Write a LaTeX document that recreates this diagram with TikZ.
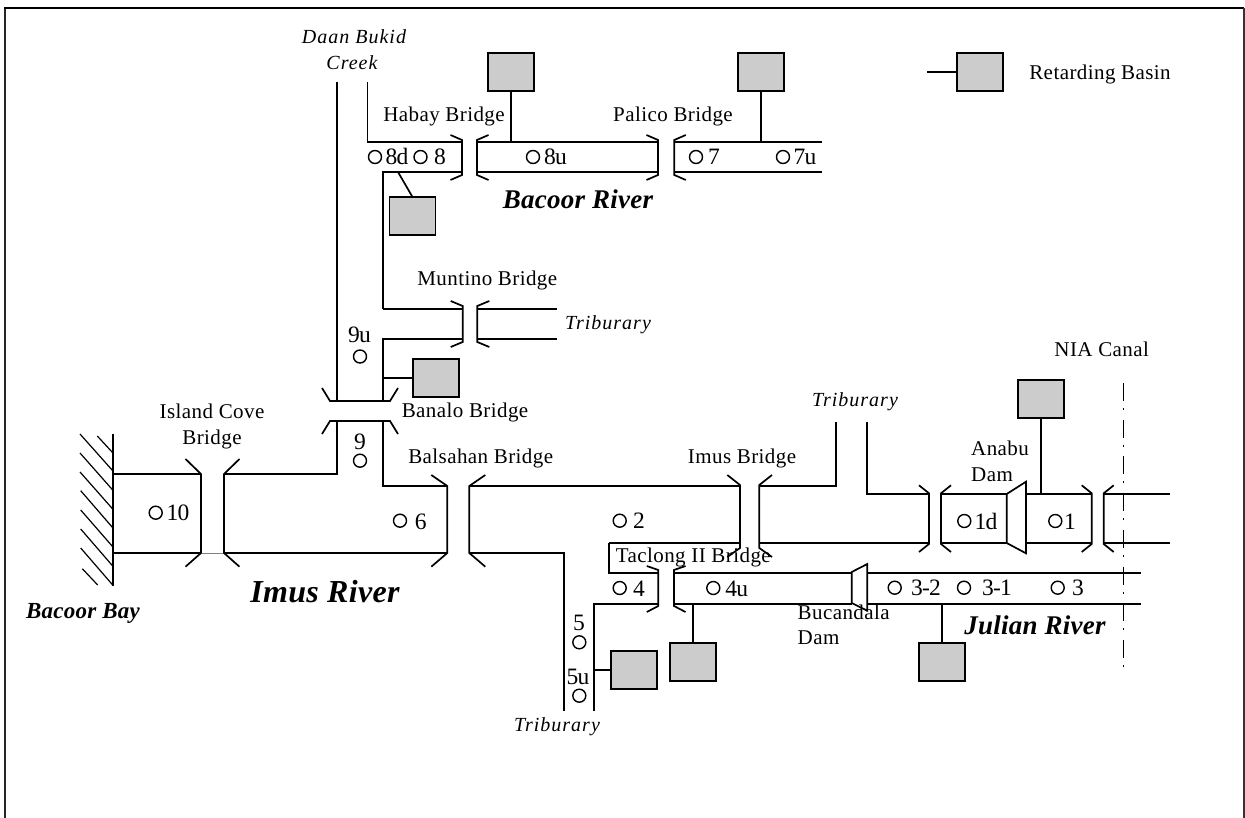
\documentclass[tikz,border=0pt]{standalone}
\usepackage{fontspec}
\setmainfont{Liberation Serif}
\newfontfamily\spc[LetterSpace=2]{Liberation Serif}
\newfontfamily\spn[LetterSpace=-3]{Liberation Serif}
\newfontfamily\spi[LetterSpace=5]{Liberation Serif Italic}
\newfontfamily\spb[LetterSpace=1]{Liberation Serif Bold Italic}
\newcommand{\vbridge}[7]{%
  \draw[river] ({#1-#5},{#3-#6}) -- (#1,#3) -- (#1,#4) -- ({#1-#5},{#4+#7});
  \draw[river] ({#2+#5},{#3-#6}) -- (#2,#3) -- (#2,#4) -- ({#2+#5},{#4+#7});
}
\tikzset{
  x=1pt,y=-1pt,
  river/.style={line width=1.7pt,line join=miter,black},
  hatchline/.style={line width=1.2pt,black},
  basin/.style={draw=black,fill=black!20,line width=1.8pt,minimum width=46pt,minimum height=38pt,inner sep=0pt,outer sep=0pt},
  gauge/.style={circle,draw=black,line width=1.4pt,minimum size=13pt,inner sep=0pt},
  dam/.style={draw=black,fill=white,line width=1.7pt,line join=miter},
  num/.style={inner sep=0pt,text height=16pt,text depth=0pt,font=\fontsize{23.5}{26}\spn},
  lbl/.style={inner sep=0pt,text height=13.5pt,text depth=0pt,font=\fontsize{21}{24}\spc},
  lbli/.style={inner sep=0pt,text height=12pt,text depth=0pt,font=\fontsize{20}{24}\spi},
  lblb/.style={inner sep=0pt,text height=17.5pt,text depth=0pt,font=\fontsize{27}{30}\spb},
}
\begin{document}
\begin{tikzpicture}
\useasboundingbox (0,0) rectangle (1245,818);
% frame
\draw[line width=1.8pt,black!85] (4.7,818) -- (4.7,7.7);
\draw[line width=2pt,black] (4,7.7) -- (1244,7.7);
\draw[line width=1.2pt,black!80] (1244,7.7) -- (1244,818);
% bay
\draw[line width=1.6pt] (113,434) -- (113,586);
\foreach \xa/\ya/\xb/\yb in {112.7/452.7/97.3/436, 112.7/470.7/80/434, 112.7/490/80/453, 112.7/509/80/472, 112.7/527.7/80.7/490.7, 112.7/546.7/80.7/510, 112.7/566/80.7/529, 112.7/585/80.7/548, 97.7/585/82.3/568.7}
  \draw[hatchline] (\xa,\ya) -- (\xb,\yb);
% Imus river and branches
\draw[river] (113,474) -- (201,474);
\draw[river] (224,474) -- (337.3,474) -- (337.3,421);
\draw[river] (337.3,401) -- (337.3,82);
\draw[river] (113,553) -- (201,553);
\draw[line width=.5pt,black!50] (201,553) -- (224,553);
\draw[river] (224,553) -- (447.3,553);
\vbridge{201}{224}{474}{553}{15.5}{15}{13.7}
\vbridge{447.3}{469.3}{486}{553}{16}{11}{13.7}
\draw[river] (382.7,421) -- (382.7,486) -- (447.3,486);
% Banalo bridge
\draw[river] (322,388) -- (330,401) -- (390,401) -- (398,388);
\draw[river] (322,434) -- (330,421) -- (390,421) -- (398,434);
\draw[river] (382.7,401) -- (382.7,339) -- (462.7,339);
\draw[river] (382.7,309) -- (462.7,309);
\draw[river] (382.7,309) -- (382.7,172) -- (462,172);
% Bacoor river
\draw[river] (367.5,82) -- (367.5,142) -- (462,142);
\vbridge{462}{477}{140}{175}{11.5}{5}{5}
\draw[river] (477,142) -- (658,142);
\draw[river] (477,172) -- (658,172);
\vbridge{658}{674.3}{140}{175}{11.5}{5}{5}
\draw[river] (674.3,142) -- (822,142);
\draw[river] (674.3,172) -- (822,172);
% Muntino
\vbridge{462.7}{477.3}{306}{342}{12}{5}{5}
\draw[river] (477.3,309) -- (556.7,309);
\draw[river] (477.3,339) -- (556.7,339);
% Imus to east
\draw[river] (469.3,486) -- (740,486);
\vbridge{740}{759.3}{485}{548}{12.7}{10}{9}
\draw[river] (759.3,486) -- (836,486) -- (836,422);
\draw[river] (866.7,422) -- (866.7,494) -- (929,494);
\draw[river] (609.3,543) -- (740,543);
\draw[river] (759.3,543) -- (929,543);
\vbridge{929}{941}{493.3}{544}{10}{8}{8}
\draw[river] (941,494) -- (1006.7,494);
\draw[river] (941,543) -- (1006.7,543);
\draw[river] (1026,494) -- (1091.7,494);
\draw[river] (1026,543) -- (1091.7,543);
\vbridge{1091.7}{1103.7}{493.3}{544}{10}{8}{8}
\draw[river] (1103.7,494) -- (1170,494);
\draw[river] (1103.7,543) -- (1170,543);
\draw[dam] (1006.7,494) -- (1026,481.7) -- (1026,553.3) -- (1006.7,543) -- cycle;
% Taclong / Julian
\draw[river] (609.3,543) -- (609.3,573) -- (658.3,573);
\draw[river] (564,711) -- (564,553) -- (469.3,553);
\draw[river] (594,711) -- (594,604) -- (658.3,604);
\vbridge{658.3}{674}{570}{606}{11.5}{4}{6}
\draw[river] (674,573) -- (851.7,573);
\draw[river] (674,604) -- (851.7,604);
\draw[river] (867.3,573) -- (1141,573);
\draw[river] (867.3,604) -- (1141,604);
\draw[dam] (851.7,572) -- (867.3,564) -- (867.3,610.7) -- (851.7,603) -- cycle;
% NIA canal
\draw[line width=1.5pt,dash pattern=on 18pt off 7pt on 2pt off 9.7pt] (1123.7,383) -- (1123.7,668);
% basins
\node[basin] (bHabay) at (511,72) {};
\node[basin] (bPalico) at (761,72) {};
\node[basin] (bDown) at (412.5,216) {};
\node[basin] (bBanalo) at (435.7,378) {};
\node[basin] (bAnabu) at (1041,399.3) {};
\node[basin] (bFive) at (633.7,670) {};
\node[basin] (bFourU) at (692.7,662) {};
\node[basin] (bThree) at (942.2,662) {};
\node[basin] (bLegend) at (980,72) {};
\coordinate (sHabay) at (511,142);
\coordinate (sPalico) at (761,142);
\coordinate (sDown) at (398,172);
\coordinate (sBanalo) at (382.7,378);
\coordinate (sAnabu) at (1041,494);
\coordinate (sFive) at (594,670);
\coordinate (sFourU) at (692.7,604);
\coordinate (sThree) at (942.2,604);
\coordinate (sLegend) at (926.7,72);
\draw[river] (bHabay.south) -- (sHabay);
\draw[river] (bPalico.south) -- (sPalico);
\draw[river] (bDown.north) -- (sDown);
\draw[river] (bBanalo.west) -- (sBanalo);
\draw[river] (bAnabu.south) -- (sAnabu);
\draw[river] (bFive.west) -- (sFive);
\draw[river] (bFourU.north) -- (sFourU);
\draw[river] (bThree.north) -- (sThree);
\draw[river] (bLegend.west) -- (sLegend);
% gauges
\foreach \n/\x/\y in {g8d/375/157, g8/420.5/157, g8u/533/157, g7/696/157, g7u/783/157, g9u/360/356.5, g9/360/460.7, g10/155.7/512.7, g6/400/520.7, g2/619.7/520.7, g4/619.7/588, g4u/713.3/588, g5/579.3/642.3, g5u/579.3/695.7, g1d/964.3/521, g1/1055.3/521, g32/894.7/587.7, g31/964/587.7, g3/1057.7/587.7}
  \node[gauge] (\n) at (\x,\y) {};
% gauge labels
\node[num] (t8d) at (397,157) {8d};
\node[num] (t8) at (440,157) {8};
\node[num] (t8u) at (555.5,157) {8u};
\node[num] (t7) at (714,157) {7};
\node[num] (t7u) at (805,157) {7u};
\node[num] (t9u) at (359.5,334) {9u};
\node[num] (t9) at (360,441) {9};
\node[num] (t10) at (178,512) {10};
\node[num] (t6) at (420.7,521) {6};
\node[num] (t2) at (639,520.5) {2};
\node[num] (t4) at (639,588) {4};
\node[num] (t4u) at (736.7,588) {4u};
\node[num] (t5) at (579,622.7) {5};
\node[num] (t5u) at (578,676.7) {5u};
\node[num] (t1d) at (986,521) {1d};
\node[num] (t1) at (1070,521) {1};
\node[num] (t32) at (926,587) {3-2};
\node[num] (t31) at (997,587) {3-1};
\node[num] (t3) at (1078,587) {3};
% labels
\node[lbli] (lDaan) at (354,38) {Daan Bukid};
\node[lbli] (lCreek) at (352,64) {Creek};
\node[lbl] (lHabay) at (444,115) {Habay Bridge};
\node[lbl] (lPalico) at (673,115) {Palico Bridge};
\node[lbl] (lRetard) at (1100,72.5) {Retarding Basin};
\node[lbl] (lMuntino) at (487.3,279) {Muntino Bridge};
\node[lbli] (lTribA) at (608,324) {Triburary};
\node[lbli] (lTribB) at (855,400) {Triburary};
\node[lbli] (lTribC) at (557,725) {Triburary};
\node[lbl] (lNIA) at (1101.7,350) {NIA Canal};
\node[lbl] (lIsland) at (212,411.7) {Island Cove};
\node[lbl] (lIslandB) at (212,438) {Bridge};
\node[lbl] (lBanalo) at (465,411) {Banalo Bridge};
\node[lbl] (lBalsahan) at (480.7,457) {Balsahan Bridge};
\node[lbl] (lImus) at (742,457) {Imus Bridge};
\node[lbl] (lTaclong) at (693.3,555.7) {Taclong II Bridge};
\node[lbl,anchor=west] (lBucan) at (797.5,612.7) {Bucandala};
\node[lbl,anchor=west] (lBucanD) at (797.5,638) {Dam};
\node[lbl,anchor=west] (lAnabu) at (971,449) {Anabu};
\node[lbl,anchor=west] (lAnabuD) at (971,475) {Dam};
\node[lblb] (lBacoor) at (578,199.5) {Bacoor River};
\node[lblb] (lJulian) at (1035,626) {Julian River};
\node[lblb,text height=21pt,font=\fontsize{32}{36}\spb] (lImusR) at (325,591.7) {Imus River};
\node[lblb,text height=15pt,font=\fontsize{23}{26}\spb] (lBay) at (83,610.7) {Bacoor Bay};
\end{tikzpicture}
\end{document}
